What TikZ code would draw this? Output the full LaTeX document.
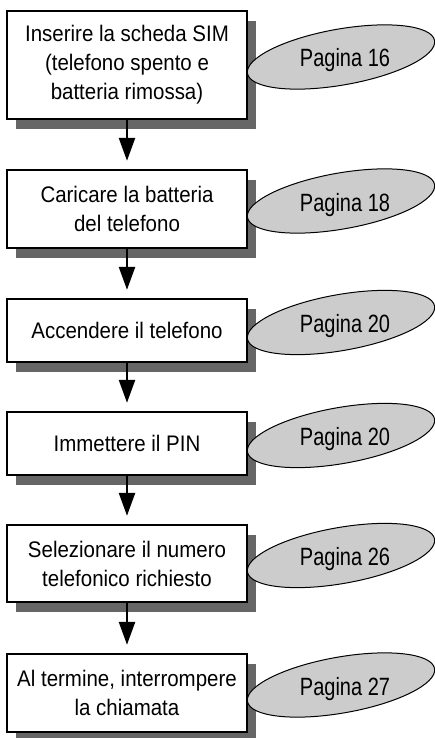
\documentclass[tikz,border=0pt]{standalone}
\usepackage{fontspec}
\setmainfont{Liberation Sans}[FakeStretch=0.91]
\newfontfamily\pageFont{Liberation Sans}[FakeStretch=0.8]
\usepackage{tikz}
\usetikzlibrary{calc}
\usetikzlibrary{arrows.meta}
\usetikzlibrary{shapes.geometric}
\usetikzlibrary{shadows}

\definecolor{shadowGray}{gray}{0.4}
\definecolor{pageGray}{gray}{0.8}

\tikzset{
	stepBox/.style = {draw, line width = 2.4pt, fill = white, minimum width = 240pt, align = center, inner sep = 0pt, font = \fontsize{22.5}{29}\selectfont, drop shadow = {shadow xshift = 9pt, shadow yshift = -10pt, fill = shadowGray, opacity = 1}},
	pageOval/.style = {ellipse, draw, line width = 1pt, fill = pageGray, minimum width = 190pt, minimum height = 56pt, inner sep = 0pt, rotate = 10},
	pageText/.style = {anchor = base, font = \pageFont\fontsize{25}{29}\selectfont},
	stepArrow/.style = {line width = 2.6pt, -{Triangle[length = 23pt, width = 16pt]}, shorten > = 8pt}
}

\begin{document}
\begin{tikzpicture}[x = 1pt, y = -1pt]

	\useasboundingbox (0,0) rectangle (435,738);

	% column of steps
	\def \stepX {127};
	\def \ovalX {341};
	\def \ovalUp {8};

	\node [stepBox, minimum height = 108pt] (insertSim) at (\stepX, 65) {Inserire la scheda SIM\\(telefono spento e\\batteria rimossa)};
	\node [stepBox, minimum height = 78pt] (chargeBattery) at (\stepX, 209) {Caricare la batteria\\del telefono};
	\node [stepBox, minimum height = 63pt] (switchOn) at (\stepX, 330.5) {Accendere il telefono};
	\node [stepBox, minimum height = 63pt] (enterPin) at (\stepX, 443.5) {Immettere il PIN};
	\node [stepBox, minimum height = 77pt] (selectNumber) at (\stepX, 563.5) {Selezionare il numero\\telefonico richiesto};
	\node [stepBox, minimum height = 78pt] (endCall) at (\stepX, 693) {Al termine, interrompere\\la chiamata};

	% arrows between steps
	\draw [stepArrow] (insertSim) -- (chargeBattery);
	\draw [stepArrow] (chargeBattery) -- (switchOn);
	\draw [stepArrow] (switchOn) -- (enterPin);
	\draw [stepArrow] (enterPin) -- (selectNumber);
	\draw [stepArrow] (selectNumber) -- (endCall);

	% page references
	\node [pageOval] (ovalInsert) at ($(\ovalX, -\ovalUp) + (0, 65)$) {};
	\node [pageText] (pageInsert) at ($(ovalInsert) + (4, 10)$) {Pagina 16};

	\node [pageOval] (ovalCharge) at ($(\ovalX, -\ovalUp) + (0, 209)$) {};
	\node [pageText] (pageCharge) at ($(ovalCharge) + (4, 10)$) {Pagina 18};

	\node [pageOval] (ovalSwitch) at ($(\ovalX, -\ovalUp) + (0, 330.5)$) {};
	\node [pageText] (pageSwitch) at ($(ovalSwitch) + (4, 10)$) {Pagina 20};

	\node [pageOval] (ovalPin) at ($(\ovalX, -\ovalUp) + (0, 443.5)$) {};
	\node [pageText] (pagePin) at ($(ovalPin) + (4, 10)$) {Pagina 20};

	\node [pageOval] (ovalSelect) at ($(\ovalX, -\ovalUp) + (0, 563.5)$) {};
	\node [pageText] (pageSelect) at ($(ovalSelect) + (4, 10)$) {Pagina 26};

	\node [pageOval] (ovalEnd) at ($(\ovalX, -\ovalUp) + (0, 693)$) {};
	\node [pageText] (pageEnd) at ($(ovalEnd) + (4, 10)$) {Pagina 27};

\end{tikzpicture}
\end{document}
